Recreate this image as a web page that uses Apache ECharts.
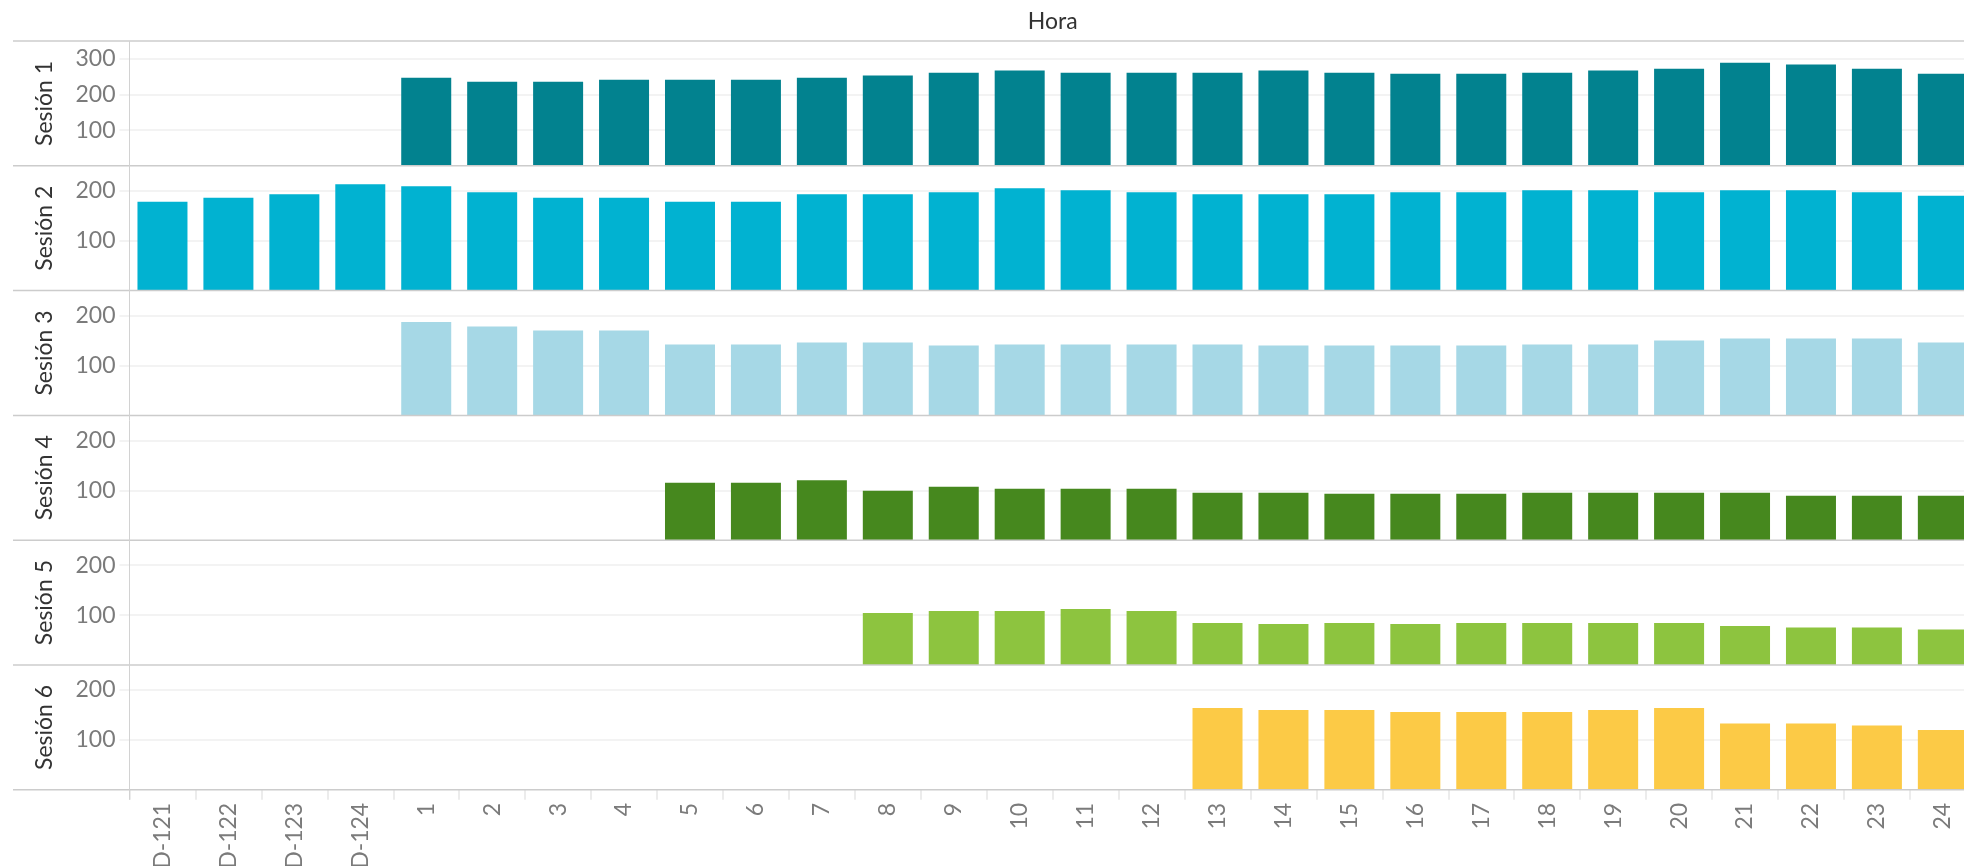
<!DOCTYPE html>
<html>
<head>
<meta charset="utf-8">
<title>Sesiones por hora</title>
<script src="https://cdn.jsdelivr.net/npm/echarts@6/dist/echarts.min.js"></script>
<style>
  html, body { margin: 0; padding: 0; background: #fff; }
  #chart { width: 1964px; height: 866px; }
</style>
</head>
<body>
<div id="chart"></div>
<script>
  const horas = ['D-121', 'D-122', 'D-123', 'D-124',
    '1', '2', '3', '4', '5', '6', '7', '8', '9', '10', '11', '12',
    '13', '14', '15', '16', '17', '18', '19', '20', '21', '22', '23', '24'];

  const sesiones = ['Sesión 1', 'Sesión 2', 'Sesión 3', 'Sesión 4', 'Sesión 5', 'Sesión 6'];

  const sesion1 = [null, null, null, null,
    247, 236, 236, 241, 241, 241, 247, 253, 261, 267, 261, 261,
    261, 267, 261, 258, 258, 261, 267, 272, 289, 284, 272, 258];
  const sesion2 = [178, 186, 193, 213,
    209, 197, 186, 186, 178, 178, 193, 193, 197, 205, 201, 197,
    193, 193, 193, 197, 197, 201, 201, 197, 201, 201, 197, 190];
  const sesion3 = [null, null, null, null,
    187, 178, 170, 170, 142, 142, 146, 146, 140, 142, 142, 142,
    142, 140, 140, 140, 140, 142, 142, 150, 154, 154, 154, 146];
  const sesion4 = [null, null, null, null,
    null, null, null, null, 115, 115, 120, 99, 107, 103, 103, 103,
    95, 95, 93, 93, 93, 95, 95, 95, 95, 89, 89, 89];
  const sesion5 = [null, null, null, null,
    null, null, null, null, null, null, null, 104, 108, 108, 112, 108,
    84, 82, 84, 82, 84, 84, 84, 84, 78, 75, 75, 71];
  const sesion6 = [null, null, null, null,
    null, null, null, null, null, null, null, null, null, null, null, null,
    164, 160, 160, 156, 156, 156, 160, 164, 133, 133, 129, 120];

  const valores = [sesion1, sesion2, sesion3, sesion4, sesion5, sesion6];
  const ejeMax = [350, 250, 250, 250, 250, 250];
  const colores = ['#02828f', '#01b2d1', '#a6d8e6', '#46881e', '#8dc43f', '#fcca46'];

  // layout (px) - the last column runs past the right edge, like the original
  const PANEL_TOP = 41;
  const PANEL_H = 124.8;
  const GRID_LEFT = 129.5;
  const BAND = 65.94;
  const GRID_W = BAND * horas.length;
  const FONT = 'Lato';

  const chart = echarts.init(document.getElementById('chart'));

  const grids = [];
  const xAxes = [];
  const yAxes = [];
  const series = [];

  valores.forEach((serie, i) => {
    const last = i === valores.length - 1;
    grids.push({
      left: GRID_LEFT,
      top: PANEL_TOP + i * PANEL_H,
      width: GRID_W,
      height: PANEL_H,
      containLabel: false,
      outerBoundsMode: 'none',
    });
    xAxes.push({
      type: 'category',
      gridIndex: i,
      data: horas,
      position: i === 0 ? 'top' : 'bottom',
      name: i === 0 ? 'Hora' : '',
      nameLocation: 'middle',
      nameGap: 8,
      nameTextStyle: { fontFamily: FONT, fontSize: 23, color: '#333' },
      axisLine: { show: false },
      axisTick: {
        show: last,
        length: 10,
        lineStyle: { color: '#e6e6e6', width: 1.5 },
      },
      axisLabel: {
        show: last,
        rotate: 90,
        margin: 13,
        interval: 0,
        fontFamily: FONT,
        fontSize: 23,
        color: '#7b7b7b',
      },
      splitLine: { show: false },
    });
    yAxes.push({
      type: 'value',
      gridIndex: i,
      min: 0,
      max: ejeMax[i],
      interval: 100,
      name: sesiones[i],
      nameLocation: 'middle',
      nameRotate: 90,
      nameGap: 73,
      nameTextStyle: { fontFamily: FONT, fontSize: 23, color: '#333' },
      axisLine: { show: false },
      axisTick: {
        show: true,
        length: 10,
        lineStyle: { color: '#efefef', width: 1.5 },
      },
      axisLabel: {
        showMinLabel: false,
        showMaxLabel: false,
        margin: 14,
        fontFamily: FONT,
        fontSize: 23,
        color: '#7b7b7b',
      },
      splitLine: {
        show: true,
        showMinLine: false,
        showMaxLine: false,
        lineStyle: { color: '#efefef', width: 1.5 },
      },
    });
    series.push({
      type: 'bar',
      name: sesiones[i],
      xAxisIndex: i,
      yAxisIndex: i,
      data: serie,
      barWidth: 50,
      itemStyle: { color: colores[i] },
      silent: true,
    });
  });

  // panel separators and the left rule
  const rules = [];
  for (let k = 0; k <= valores.length; k++) {
    const y = PANEL_TOP + k * PANEL_H;
    rules.push({
      type: 'line',
      z: 10,
      shape: { x1: 13, y1: y, x2: 1964, y2: y },
      style: { stroke: '#cccccc', lineWidth: 1.5 },
    });
  }
  rules.push({
    type: 'line',
    z: 10,
    shape: {
      x1: GRID_LEFT, y1: PANEL_TOP,
      x2: GRID_LEFT, y2: PANEL_TOP + valores.length * PANEL_H + 10,
    },
    style: { stroke: '#d2d2d2', lineWidth: 1 },
  });

  chart.setOption({
    animation: false,
    backgroundColor: '#fff',
    grid: grids,
    xAxis: xAxes,
    yAxis: yAxes,
    series: series,
    graphic: rules,
  });

  window.addEventListener('resize', () => chart.resize());
</script>
</body>
</html>
